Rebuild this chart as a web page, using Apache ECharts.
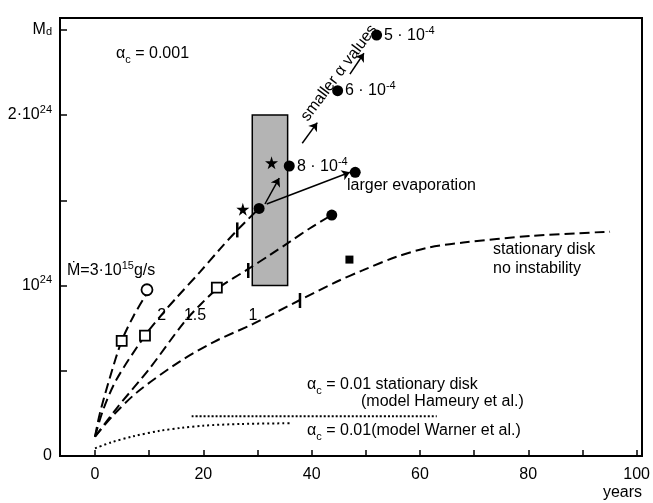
<!DOCTYPE html>
<html>
<head>
<meta charset="utf-8">
<script src="https://cdn.jsdelivr.net/npm/echarts@6/dist/echarts.min.js"></script>
<style>
  html, body { margin: 0; padding: 0; background: #fff; }
  #chart { width: 653px; height: 503px; }
</style>
</head>
<body>
<div id="chart"></div>
<script>
// axis ticks and labels
var xTickValues = [0, 10, 20, 30, 40, 50, 60, 70, 80, 90, 100];
var xLabelValues = [0, 20, 40, 60, 80, 100];
var yTickValues = [0, 0.5, 1, 1.5, 2, 2.5];
var yLabelValues = [0, 1, 2, 2.5];
var yLabelTexts = ['0', '10{sup|24}', '2·10{sup|24}', '{m|M}{sub|d}'];

// curves, x in years, y in units of 10^24
var curveMdot = [[0, 0.113], [0.9, 0.25], [2.8, 0.465], [4.93, 0.675], [7.1, 0.82], [9.5, 0.95]];
var curve2 = [[0, 0.113], [1.5, 0.27], [4, 0.45], [9.23, 0.706], [12.6, 0.84], [15.1, 0.93],
              [19.4, 1.08], [23.1, 1.215], [26.3, 1.326], [30.3, 1.452]];
var curve15 = [[0, 0.113], [4, 0.28], [10, 0.51], [16.3, 0.778], [19.4, 0.886], [22.65, 0.982],
               [28.3, 1.097], [32.3, 1.179], [36, 1.257], [39.7, 1.336], [43.7, 1.413]];
var curve1 = [[0, 0.113], [3.4, 0.24], [8, 0.38], [15.7, 0.555], [22, 0.67], [29.2, 0.775],
              [37.85, 0.915], [44.6, 1.022], [49.5, 1.09], [55.7, 1.169], [61.8, 1.224],
              [68, 1.252], [80.3, 1.29], [95.1, 1.316]];
var hameury = [[17.85, 0.233], [63.1, 0.233]];
var warner = [[0, 0.045], [3, 0.08], [7, 0.115], [12, 0.148], [16, 0.165], [20, 0.178], [27, 0.188], [36, 0.192]];

// markers
var openSquares = [[4.93, 0.675], [9.23, 0.706], [22.5, 0.987]];
var openCircles = [[9.6, 0.975]];
var filledCircles = [[30.3, 1.452], [35.87, 1.701], [48.05, 1.664], [43.72, 1.413], [44.8, 2.143], [52.0, 2.469]];
var stars = [[27.3, 1.447], [32.6, 1.72]];
var filledSquares = [[46.98, 1.152]];
var curveTicks = [[26.27, 1.326], [28.3, 1.088], [37.85, 0.912]];
var boxRange = [29.04, 1.0, 35.57, 2.0];
var arrows = [
    [[31.38, 1.478], [34.02, 1.630]],
    [[31.7, 1.478], [47.07, 1.664]],
    [[38.27, 1.834], [41.04, 1.955]],
    [[47.07, 2.240], [49.66, 2.362]]
];

var FONT = '"Liberation Sans", Arial, Helvetica, sans-serif';
var STAR = 'path://M50,0 L61,35 L98,35 L68,57 L79,91 L50,70 L21,91 L32,57 L2,35 L39,35 Z';

var richLabel = {
    sup: { fontSize: 11, lineHeight: 11, verticalAlign: 'top', color: '#000', fontFamily: FONT },
    sub: { fontSize: 11, lineHeight: 11, verticalAlign: 'bottom', color: '#000', fontFamily: FONT },
    m: { fontSize: 16, lineHeight: 16, verticalAlign: 'top', color: '#000', fontFamily: FONT }
};
var richGraphic = {
    sup: { fontSize: 11, lineHeight: 11, verticalAlign: 'top', fill: '#000', fontFamily: FONT },
    sub: { fontSize: 11, lineHeight: 11, verticalAlign: 'bottom', fill: '#000', fontFamily: FONT }
};

function txt(x, y, text, align, extra) {
    var el = {
        type: 'text', x: x, y: y, silent: true, z: 100,
        style: {
            text: text, fontSize: 16, fontFamily: FONT, fill: '#000', lineHeight: 22,
            align: align || 'left', verticalAlign: 'middle', rich: richGraphic
        }
    };
    if (extra) { for (var k in extra) el[k] = extra[k]; }
    return el;
}

function dashed(data) {
    return {
        type: 'line', data: data, smooth: 0.3, showSymbol: false, silent: true, z: 3,
        lineStyle: { color: '#000', width: 2, type: [10, 5] }
    };
}

function dotted(data, dash) {
    return {
        type: 'line', data: data, smooth: 0.3, showSymbol: false, silent: true, z: 3,
        lineStyle: { color: '#000', width: 2, type: dash }
    };
}

function marks(data, symbol, size, fill) {
    return {
        type: 'scatter', data: data, symbol: symbol, symbolSize: size,
        silent: true, z: 6,
        itemStyle: { color: fill, borderColor: '#000', borderWidth: fill === '#fff' ? 1.8 : 0, opacity: 1 }
    };
}

var chart = echarts.init(document.getElementById('chart'));

var option = {
    animation: false,
    backgroundColor: '#fff',
    grid: { left: 60, right: 11, top: 18, bottom: 47, show: true, borderColor: '#000', borderWidth: 2 },
    xAxis: {
        type: 'value', min: -6.46, max: 101,
        axisLine: { onZero: false, lineStyle: { color: '#000', width: 2 } },
        axisTick: { inside: true, length: 6, customValues: xTickValues, lineStyle: { color: '#000', width: 1.5 } },
        axisLabel: { customValues: xLabelValues, fontSize: 16, color: '#000', margin: 11, fontFamily: FONT },
        splitLine: { show: false }
    },
    yAxis: {
        type: 'value', min: 0, max: 2.569,
        axisLine: { onZero: false, lineStyle: { color: '#000', width: 2 } },
        axisTick: { inside: true, length: 7, customValues: yTickValues, lineStyle: { color: '#000', width: 1.5 } },
        axisLabel: {
            customValues: yLabelValues, fontSize: 16, lineHeight: 22, color: '#000', margin: 8, fontFamily: FONT,
            rich: richLabel,
            formatter: function (v) {
                var i = yLabelValues.indexOf(v);
                return i >= 0 ? yLabelTexts[i] : '';
            }
        },
        splitLine: { show: false }
    },
    series: [
        {
            type: 'custom', z: 1, silent: true, data: [boxRange],
            renderItem: function (params, api) {
                var p0 = api.coord([api.value(0), api.value(3)]);
                var p1 = api.coord([api.value(2), api.value(1)]);
                return {
                    type: 'rect',
                    shape: { x: p0[0], y: p0[1], width: p1[0] - p0[0], height: p1[1] - p0[1] },
                    style: { fill: '#b4b4b4', stroke: '#000', lineWidth: 1.5 }
                };
            }
        },
        dashed(curveMdot),
        dashed(curve2),
        dashed(curve15),
        dashed(curve1),
        dotted(hameury, [2, 2]),
        dotted(warner, [2, 3]),
        marks(curveTicks, 'rect', [2.5, 15], '#000'),
        marks(openSquares, 'rect', 10, '#fff'),
        marks(openCircles, 'circle', 11, '#fff'),
        marks(filledCircles, 'circle', 11, '#000'),
        marks(stars, STAR, 13, '#000'),
        marks(filledSquares, 'rect', 8, '#000'),
        {
            type: 'lines', coordinateSystem: 'cartesian2d', silent: true, z: 5,
            data: arrows.map(function (a) { return { coords: a }; }),
            symbol: ['none', 'arrow'], symbolSize: 8,
            lineStyle: { color: '#000', width: 1.5, opacity: 1, curveness: 0 }
        }
    ],
    graphic: [
        txt(116, 54, 'α{sub|c} = 0.001'),
        txt(67, 271, 'Ṁ=3·10{sup|15}g/s'),
        txt(161.7, 316, '2', 'center'),
        txt(195, 316, '1.5', 'center'),
        txt(253, 316, '1', 'center'),
        txt(297, 167, '8 · 10{sup|-4}'),
        txt(345, 91, '6 · 10{sup|-4}'),
        txt(384, 36, '5 · 10{sup|-4}'),
        txt(347, 186, 'larger evaporation'),
        txt(493, 250, 'stationary disk'),
        txt(493, 269, 'no instability'),
        txt(307, 385, 'α{sub|c} = 0.01 stationary disk'),
        txt(361, 402, '(model Hameury et al.)'),
        txt(307, 431, 'α{sub|c} = 0.01(model Warner et al.)'),
        txt(642, 493, 'years', 'right'),
        txt(339, 73, 'smaller α values', 'center', { rotation: 0.925 })
    ]
};

chart.setOption(option);
</script>
</body>
</html>
